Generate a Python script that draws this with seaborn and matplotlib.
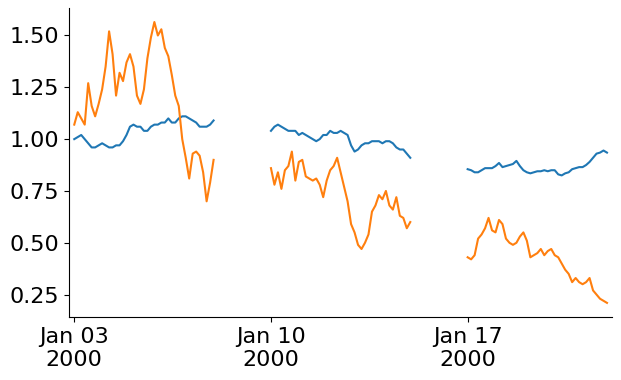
import matplotlib
matplotlib.use("Agg")
import matplotlib.pyplot as plt
import matplotlib.dates as mdates
import pandas as pd
import seaborn as sns

# one trading week per segment, Mon 00:00 .. Fri 23:00
week_starts = ["2000-01-03", "2000-01-10", "2000-01-17"]
points_per_week = 41

blue_w1 = [1.00, 1.01, 1.02, 1.00, 0.98, 0.96, 0.96, 0.97, 0.98, 0.97, 0.96,
           0.96, 0.97, 0.97, 0.99, 1.02, 1.06, 1.07, 1.06, 1.06, 1.04, 1.04,
           1.06, 1.07, 1.07, 1.08, 1.08, 1.10, 1.08, 1.08, 1.10, 1.11, 1.11,
           1.10, 1.09, 1.08, 1.06, 1.06, 1.06, 1.07, 1.09]
blue_w2 = [1.04, 1.06, 1.07, 1.06, 1.05, 1.04, 1.04, 1.04, 1.02, 1.03, 1.02,
           1.01, 1.00, 0.99, 1.00, 1.02, 1.02, 1.04, 1.03, 1.03, 1.04, 1.03,
           1.02, 0.97, 0.94, 0.95, 0.97, 0.98, 0.98, 0.99, 0.99, 0.99, 0.98,
           0.99, 0.99, 0.98, 0.96, 0.95, 0.95, 0.93, 0.91]
blue_w3 = [0.855, 0.85, 0.84, 0.84, 0.85, 0.86, 0.86, 0.86, 0.87, 0.885, 0.865,
           0.87, 0.875, 0.88, 0.895, 0.87, 0.85, 0.84, 0.835, 0.84, 0.845, 0.845,
           0.85, 0.845, 0.85, 0.85, 0.83, 0.825, 0.835, 0.84, 0.855, 0.86, 0.865,
           0.865, 0.875, 0.89, 0.91, 0.93, 0.935, 0.945, 0.935]

orange_w1 = [1.07, 1.13, 1.10, 1.07, 1.27, 1.16, 1.11, 1.17, 1.24, 1.35, 1.52,
             1.41, 1.21, 1.32, 1.28, 1.37, 1.41, 1.35, 1.21, 1.17, 1.24, 1.39,
             1.49, 1.565, 1.50, 1.53, 1.44, 1.40, 1.31, 1.21, 1.16, 1.00, 0.91,
             0.81, 0.93, 0.94, 0.92, 0.84, 0.70, 0.79, 0.90]
orange_w2 = [0.86, 0.78, 0.84, 0.76, 0.85, 0.87, 0.94, 0.80, 0.89, 0.90, 0.82,
             0.81, 0.80, 0.81, 0.78, 0.72, 0.80, 0.85, 0.87, 0.91, 0.84, 0.77,
             0.70, 0.59, 0.55, 0.49, 0.47, 0.50, 0.54, 0.65, 0.68, 0.73, 0.71,
             0.75, 0.68, 0.66, 0.72, 0.63, 0.62, 0.57, 0.60]
orange_w3 = [0.43, 0.42, 0.44, 0.52, 0.54, 0.57, 0.62, 0.56, 0.55, 0.61, 0.59,
             0.52, 0.50, 0.49, 0.50, 0.53, 0.55, 0.51, 0.43, 0.44, 0.45, 0.47,
             0.44, 0.46, 0.47, 0.44, 0.43, 0.40, 0.37, 0.35, 0.31, 0.33, 0.31,
             0.30, 0.31, 0.33, 0.27, 0.25, 0.23, 0.22, 0.21]

blue_weeks = [blue_w1, blue_w2, blue_w3]
orange_weeks = [orange_w1, orange_w2, orange_w3]

fig, ax = plt.subplots(figsize=(6.21, 3.80), dpi=100)
fig.subplots_adjust(left=0.111, right=0.986, bottom=0.166, top=0.979)

for start, b, o in zip(week_starts, blue_weeks, orange_weeks):
    t0 = pd.Timestamp(start)
    idx = pd.date_range(t0, t0 + pd.Timedelta(hours=119), periods=points_per_week)
    df = pd.DataFrame({"time": idx, "blue": b, "orange": o})
    # separate calls so the weekend gap stays open
    sns.lineplot(data=df, x="time", y="blue", color="#1f77b4", lw=1.5, ax=ax)
    sns.lineplot(data=df, x="time", y="orange", color="#ff7f0e", lw=1.5, ax=ax)

ax.margins(x=0.01)
ax.set_xlabel("")
ax.set_ylabel("")
ax.set_yticks([0.25, 0.5, 0.75, 1.0, 1.25, 1.5])
ax.yaxis.set_major_formatter(plt.FormatStrFormatter("%.2f"))
ax.xaxis.set_major_locator(mdates.WeekdayLocator(byweekday=mdates.MO))
ax.xaxis.set_major_formatter(mdates.DateFormatter("%b %d\n%Y"))
ax.tick_params(axis="both", labelsize=16)
for lbl in ax.get_xticklabels():
    lbl.set_horizontalalignment("center")
sns.despine(ax=ax)

fig.savefig("out.png", dpi=100)
